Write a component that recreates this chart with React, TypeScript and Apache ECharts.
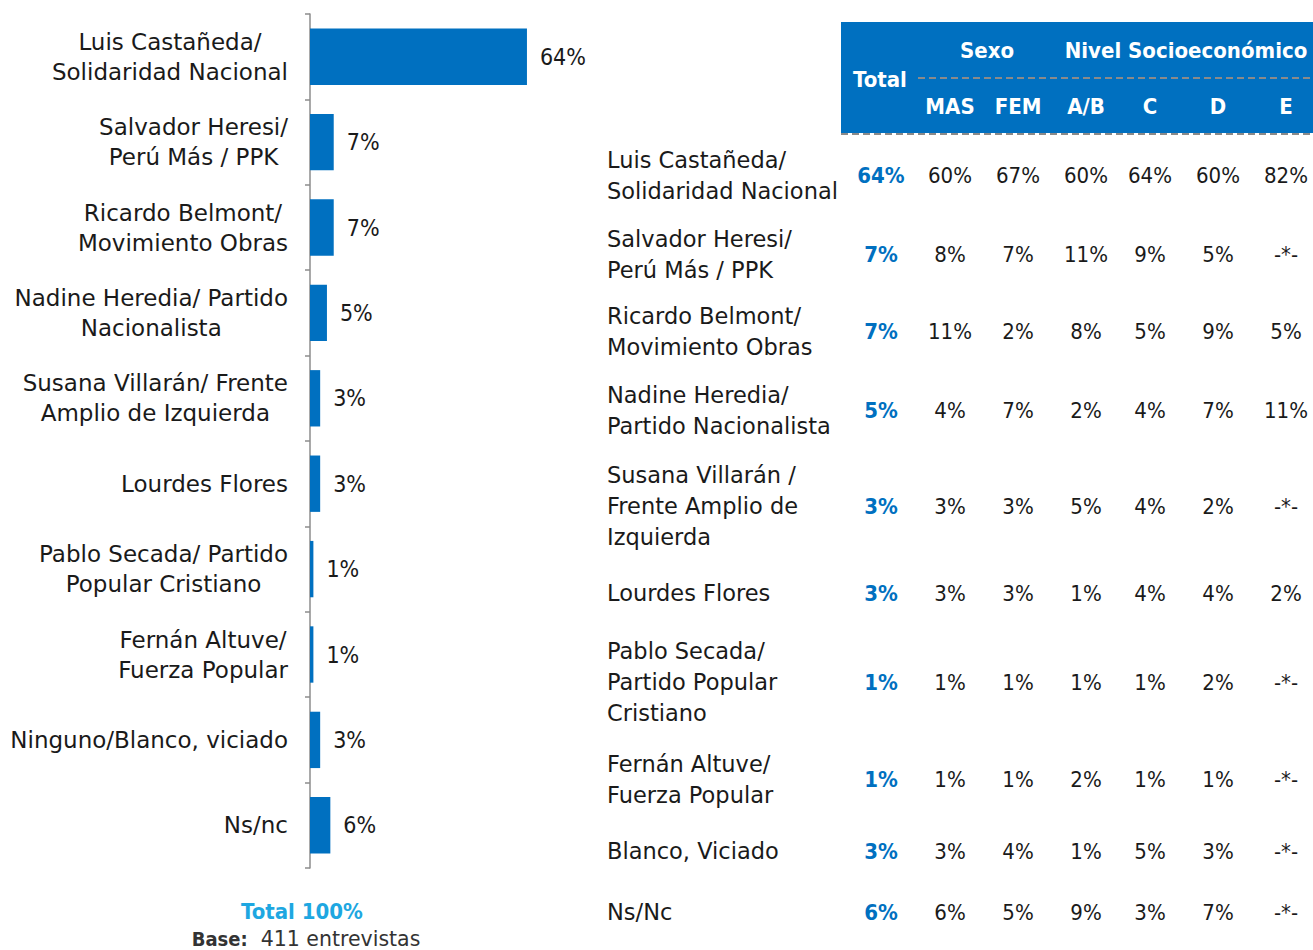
import React, { useEffect, useRef } from "react";
import * as echarts from "echarts";

const FONT = "'DejaVu Sans Condensed', 'DejaVu Sans', sans-serif";
const FONT_W = "'DejaVu Sans', sans-serif";

const categories = [
  "Luis Castañeda/\nSolidaridad Nacional",
  "Salvador Heresi/\nPerú Más / PPK",
  "Ricardo Belmont/\nMovimiento Obras",
  "Nadine Heredia/ Partido\nNacionalista",
  "Susana Villarán/ Frente\nAmplio de Izquierda",
  "Lourdes Flores",
  "Pablo Secada/ Partido\nPopular Cristiano",
  "Fernán Altuve/\nFuerza Popular",
  "Ninguno/Blanco, viciado",
  "Ns/nc",
];
const values = [64, 7, 7, 5, 3, 3, 1, 1, 3, 6];

const tableRows = [
  "Luis Castañeda/\nSolidaridad Nacional",
  "Salvador Heresi/\nPerú Más / PPK",
  "Ricardo Belmont/\nMovimiento Obras",
  "Nadine Heredia/\nPartido Nacionalista",
  "Susana Villarán /\nFrente Amplio de\nIzquierda",
  "Lourdes Flores",
  "Pablo Secada/\nPartido Popular\nCristiano",
  "Fernán Altuve/\nFuerza Popular",
  "Blanco, Viciado",
  "Ns/Nc",
];
const colTotal = [64, 7, 7, 5, 3, 3, 1, 1, 3, 6];
const colMas = [60, 8, 11, 4, 3, 3, 1, 1, 3, 6];
const colFem = [67, 7, 2, 7, 3, 3, 1, 1, 4, 5];
const colAB = [60, 11, 8, 2, 5, 1, 1, 2, 1, 9];
const colC = [64, 9, 5, 4, 4, 4, 1, 1, 5, 3];
const colD = [60, 5, 9, 7, 2, 4, 2, 1, 3, 7];
const colE: (number | null)[] = [82, null, 5, 11, null, 2, null, null, null, null];
const subHeaders = ["MAS", "FEM", "A/B", "C", "D", "E"];

// layout (positions only)
const rowY = [175, 254, 331, 410, 506, 593, 682, 779, 851, 912];
const colX = [881, 950, 1018, 1086, 1150, 1218, 1286];

export default function App() {
  const ref = useRef<HTMLDivElement>(null);
  useEffect(() => {
    const chart = echarts.init(ref.current!, undefined, { renderer: "svg" });
    const fmt = (v: number | null) => (v == null ? "-*-" : v + "%");
    const cols = [colMas, colFem, colAB, colC, colD, colE];

    const graphics: any[] = [];
    graphics.push({
      type: "rect",
      shape: { x: 841, y: 22, width: 472, height: 111 },
      style: { fill: "#0070c0" },
    });
    graphics.push({
      type: "line",
      shape: { x1: 918, y1: 78, x2: 1313, y2: 78 },
      style: { stroke: "#8a8a8a", lineWidth: 2, lineDash: [7, 4] },
    });
    graphics.push({
      type: "line",
      shape: { x1: 841, y1: 134, x2: 1313, y2: 134 },
      style: { stroke: "#8a8a8a", lineWidth: 2, lineDash: [7, 4] },
    });
    const hdr = (text: string, x: number, y: number) => ({
      type: "text",
      x,
      y,
      style: {
        text,
        fill: "#ffffff",
        font: `bold 22px ${FONT}`,
        textAlign: "center",
        textVerticalAlign: "middle",
      },
    });
    graphics.push(hdr("Total", 880, 79));
    graphics.push(hdr("Sexo", 987, 50));
    graphics.push(hdr("Nivel Socioeconómico", 1186, 50));
    subHeaders.forEach((h, i) => graphics.push(hdr(h, colX[i + 1], 106)));

    tableRows.forEach((label, r) => {
      graphics.push({
        type: "text",
        x: 607,
        y: rowY[r],
        style: {
          text: label,
          fill: "#1a1a1a",
          font: `22.5px ${FONT_W}`,
          lineHeight: 31,
          textAlign: "left",
          textVerticalAlign: "middle",
        },
      });
      graphics.push({
        type: "text",
        x: colX[0],
        y: rowY[r],
        style: {
          text: fmt(colTotal[r]),
          fill: "#0070c0",
          font: `bold 22px ${FONT}`,
          textAlign: "center",
          textVerticalAlign: "middle",
        },
      });
      cols.forEach((col, c) => {
        graphics.push({
          type: "text",
          x: colX[c + 1],
          y: rowY[r],
          style: {
            text: fmt(col[r]),
            fill: "#1a1a1a",
            font: `22px ${FONT}`,
            textAlign: "center",
            textVerticalAlign: "middle",
          },
        });
      });
    });

    graphics.push({
      type: "text",
      x: 302,
      y: 911,
      style: {
        text: "Total 100%",
        fill: "#1ea7e1",
        font: `bold 22px ${FONT}`,
        textAlign: "center",
        textVerticalAlign: "middle",
      },
    });
    graphics.push({
      type: "text",
      x: 306,
      y: 939,
      style: {
        text: "{b|Base:}{r|  411 entrevistas}",
        textAlign: "center",
        textVerticalAlign: "middle",
        rich: {
          b: { font: `bold 20px ${FONT}`, fill: "#333333" },
          r: { font: `20.5px ${FONT_W}`, fill: "#333333" },
        },
      },
    });

    chart.setOption({
      animation: false,
      grid: { left: 310, top: 14, width: 339, height: 854, containLabel: false },
      xAxis: { type: "value", min: 0, max: 100, show: false },
      yAxis: {
        type: "category",
        inverse: true,
        data: categories,
        axisLine: { show: true, lineStyle: { color: "#8c8c8c", width: 1.5 } },
        axisTick: { show: true, length: 5, lineStyle: { color: "#8c8c8c", width: 1.5 } },
        axisLabel: {
          margin: 22,
          align: "right",
          formatter: (v: string) =>
            v
              .split("\n")
              .map((l) => `{a|${l}}`)
              .join("\n"),
          rich: {
            a: {
              align: "center",
              fontSize: 23,
              lineHeight: 30,
              fontFamily: FONT_W,
              color: "#1a1a1a",
            },
          },
        },
      },
      series: [
        {
          type: "bar",
          data: values,
          barCategoryGap: "34%",
          itemStyle: { color: "#0070c0" },
          label: {
            show: true,
            position: "right",
            distance: 13,
            formatter: "{c}%",
            fontSize: 23,
            fontFamily: FONT,
            color: "#1a1a1a",
          },
        },
      ],
      graphic: graphics,
    });
    return () => chart.dispose();
  }, []);
  return (
    <div
      ref={ref}
      style={{ position: "fixed", left: 0, top: 0, width: 1313, height: 950, background: "#fff" }}
    />
  );
}
